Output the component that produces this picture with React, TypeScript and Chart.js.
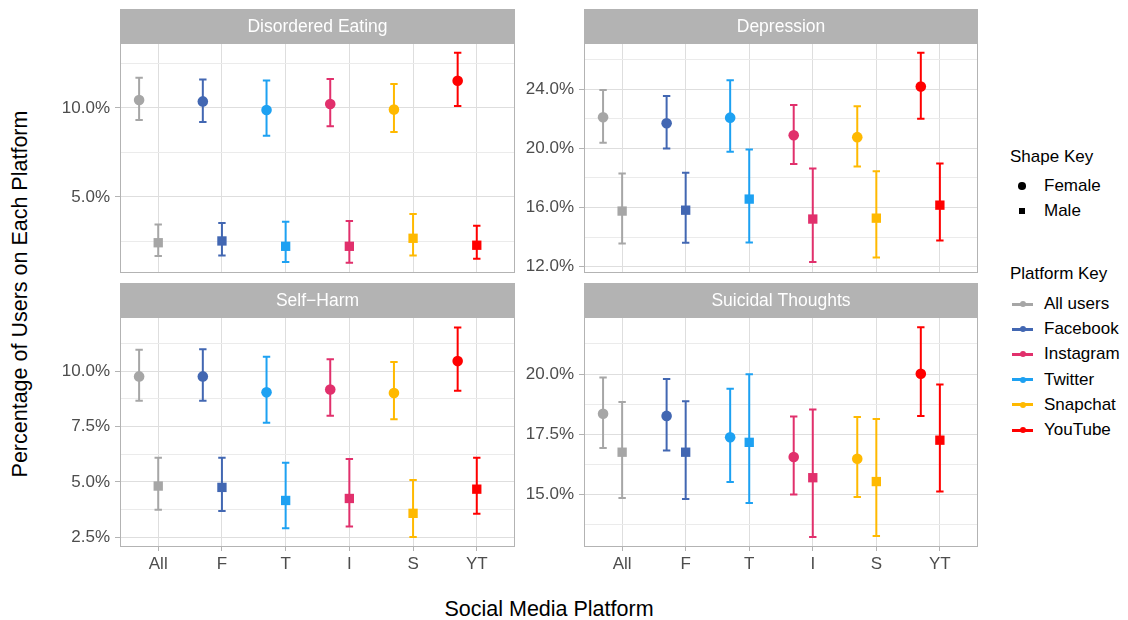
import React, { useEffect, useRef } from "react";
import { Chart, registerables } from "chart.js";

Chart.register(...registerables);

const FONT = '"Liberation Sans", Arial, Helvetica, sans-serif';

// x-axis categories (platform abbreviations) and their colours
const platformTicks = ["All", "F", "T", "I", "S", "YT"];
const platformColors = ["#A6A6A6", "#4267B2", "#1DA1F2", "#E1306C", "#FFB900", "#FF0000"];

// legend entries
const shapeKeyLabels = ["Female", "Male"];
const platformKeyLabels = ["All users", "Facebook", "Instagram", "Twitter", "Snapchat", "YouTube"];
const platformKeyColors = ["#A6A6A6", "#4267B2", "#E1306C", "#1DA1F2", "#FFB900", "#FF0000"];

// Disordered Eating (% of users), estimate with lower / upper interval
const eatingFemale = [10.45, 10.37, 9.89, 10.22, 9.91, 11.53];
const eatingFemaleLo = [9.33, 9.21, 8.44, 8.97, 8.65, 10.11];
const eatingFemaleHi = [11.7, 11.6, 11.55, 11.63, 11.35, 13.1];
const eatingMale = [2.43, 2.53, 2.23, 2.23, 2.68, 2.29];
const eatingMaleLo = [1.69, 1.72, 1.35, 1.31, 1.72, 1.53];
const eatingMaleHi = [3.45, 3.54, 3.61, 3.65, 4.04, 3.39];

// Depression
const depressionFemale = [22.11, 21.7, 22.08, 20.89, 20.76, 24.18];
const depressionFemaleLo = [20.39, 19.99, 19.78, 18.95, 18.77, 22.01];
const depressionFemaleHi = [23.95, 23.55, 24.61, 22.94, 22.85, 26.47];
const depressionMale = [15.76, 15.82, 16.57, 15.22, 15.28, 16.16];
const depressionMaleLo = [13.57, 13.61, 13.64, 12.31, 12.62, 13.77];
const depressionMaleHi = [18.3, 18.36, 19.92, 18.64, 18.46, 18.97];

// Self-Harm
const selfHarmFemale = [9.76, 9.76, 9.04, 9.17, 9.01, 10.45];
const selfHarmFemaleLo = [8.66, 8.66, 7.67, 7.98, 7.82, 9.11];
const selfHarmFemaleHi = [10.96, 10.99, 10.65, 10.53, 10.41, 11.97];
const selfHarmMale = [4.81, 4.75, 4.16, 4.25, 3.58, 4.67];
const selfHarmMaleLo = [3.74, 3.69, 2.91, 2.98, 2.51, 3.56];
const selfHarmMaleHi = [6.09, 6.09, 5.86, 6.03, 5.08, 6.09];

// Suicidal Thoughts
const suicidalFemale = [18.35, 18.26, 17.37, 16.55, 16.48, 20.01];
const suicidalFemaleLo = [16.93, 16.82, 15.51, 14.99, 14.89, 18.26];
const suicidalFemaleHi = [19.86, 19.79, 19.39, 18.23, 18.21, 21.94];
const suicidalMale = [16.75, 16.75, 17.16, 15.69, 15.53, 17.25];
const suicidalMaleLo = [14.85, 14.81, 14.64, 13.23, 13.27, 15.12];
const suicidalMaleHi = [18.84, 18.87, 19.99, 18.53, 18.13, 19.56];

// y-axis tick values per panel
const eatingMajor = [5, 10];
const eatingMinor = [2.5, 7.5, 12.5];
const depressionMajor = [12, 16, 20, 24];
const depressionMinor = [14, 18, 22, 26];
const selfHarmMajor = [2.5, 5, 7.5, 10];
const selfHarmMinor = [3.75, 6.25, 8.75, 11.25];
const suicidalMajor = [15, 17.5, 20];
const suicidalMinor = [13.75, 16.25, 18.75, 21.25];

const FEMALE_DODGE = -0.3;
const STRIP_H = 34;
const Y_AXIS_W = 64;

type Series = { est: number[]; lo: number[]; hi: number[] };
type PanelDef = {
  title: string;
  female: Series;
  male: Series;
  yMin: number;
  yMax: number;
  major: number[];
  minor: number[];
  left: number;
  top: number;
  width: number;
  bottomRow: boolean;
};

const panels: PanelDef[] = [
  {
    title: "Disordered Eating",
    female: { est: eatingFemale, lo: eatingFemaleLo, hi: eatingFemaleHi },
    male: { est: eatingMale, lo: eatingMaleLo, hi: eatingMaleHi },
    yMin: 0.73, yMax: 13.65, major: eatingMajor, minor: eatingMinor,
    left: 56, top: 9, width: 460, bottomRow: false,
  },
  {
    title: "Depression",
    female: { est: depressionFemale, lo: depressionFemaleLo, hi: depressionFemaleHi },
    male: { est: depressionMale, lo: depressionMaleLo, hi: depressionMaleHi },
    yMin: 11.57, yMax: 27.13, major: depressionMajor, minor: depressionMinor,
    left: 520, top: 9, width: 459, bottomRow: false,
  },
  {
    title: "Self\u2212Harm",
    female: { est: selfHarmFemale, lo: selfHarmFemaleLo, hi: selfHarmFemaleHi },
    male: { est: selfHarmMale, lo: selfHarmMaleLo, hi: selfHarmMaleHi },
    yMin: 2.06, yMax: 12.44, major: selfHarmMajor, minor: selfHarmMinor,
    left: 56, top: 283, width: 460, bottomRow: true,
  },
  {
    title: "Suicidal Thoughts",
    female: { est: suicidalFemale, lo: suicidalFemaleLo, hi: suicidalFemaleHi },
    male: { est: suicidalMale, lo: suicidalMaleLo, hi: suicidalMaleHi },
    yMin: 12.81, yMax: 22.37, major: suicidalMajor, minor: suicidalMinor,
    left: 520, top: 283, width: 459, bottomRow: true,
  },
];

// vertical interval lines with end caps, drawn under the points
const errorBarPlugin = {
  id: "errorBars",
  beforeDatasetsDraw(chart: any) {
    const { ctx, chartArea, scales } = chart;
    ctx.save();
    ctx.beginPath();
    ctx.rect(chartArea.left, chartArea.top, chartArea.right - chartArea.left, chartArea.bottom - chartArea.top);
    ctx.clip();
    ctx.lineWidth = 2;
    ctx.lineCap = "butt";
    chart.data.datasets.forEach((ds: any) => {
      ds.data.forEach((p: any, i: number) => {
        const x = scales.x.getPixelForValue(p.x);
        const yLo = scales.y.getPixelForValue(p.lo);
        const yHi = scales.y.getPixelForValue(p.hi);
        const cap = 3.7;
        ctx.strokeStyle = platformColors[i];
        ctx.beginPath();
        ctx.moveTo(x, yLo);
        ctx.lineTo(x, yHi);
        ctx.moveTo(x - cap, yLo);
        ctx.lineTo(x + cap, yLo);
        ctx.moveTo(x - cap, yHi);
        ctx.lineTo(x + cap, yHi);
        ctx.stroke();
      });
    });
    ctx.restore();
  },
};

// facet strip above the plotting area and the grey panel border
const panelFramePlugin = {
  id: "panelFrame",
  afterDraw(chart: any, _args: any, opts: any) {
    const { ctx, chartArea } = chart;
    const w = chartArea.right - chartArea.left;
    const h = chartArea.bottom - chartArea.top;
    ctx.save();
    ctx.fillStyle = "#B3B3B3";
    ctx.fillRect(chartArea.left, chartArea.top - STRIP_H, w, STRIP_H);
    ctx.fillStyle = "#FFFFFF";
    ctx.font = `17.5px ${FONT}`;
    ctx.textAlign = "center";
    ctx.textBaseline = "middle";
    ctx.fillText(opts.title, chartArea.left + w / 2, chartArea.top - STRIP_H / 2 + 1);
    ctx.strokeStyle = "#B3B3B3";
    ctx.lineWidth = 1;
    ctx.strokeRect(chartArea.left + 0.5, chartArea.top + 0.5, w - 1, h - 1);
    ctx.restore();
  },
};

const isIn = (list: number[], v: number) => list.some((m) => Math.abs(m - v) < 1e-6);

function Panel({ def }: { def: PanelDef }) {
  const ref = useRef<HTMLCanvasElement | null>(null);
  const height = def.bottomRow ? 300 : 272;

  useEffect(() => {
    if (!ref.current) return;
    const toPoints = (s: Series, offset: number) =>
      s.est.map((v, i) => ({ x: i + 1 + offset, y: v, lo: s.lo[i], hi: s.hi[i] }));
    const yTicks = [...def.major, ...def.minor].sort((a, b) => a - b);
    const zeroPad = (s: any) => {
      s.paddingTop = 0;
      s.paddingBottom = 0;
      s.paddingLeft = 0;
      s.paddingRight = 0;
    };

    const chart = new Chart(ref.current, {
      type: "scatter",
      data: {
        datasets: [
          {
            label: shapeKeyLabels[0],
            data: toPoints(def.female, FEMALE_DODGE),
            pointStyle: "circle",
            pointRadius: 5.3,
            pointHoverRadius: 5.3,
            pointBorderWidth: 0,
            pointBackgroundColor: platformColors,
            pointBorderColor: platformColors,
          },
          {
            label: shapeKeyLabels[1],
            data: toPoints(def.male, 0),
            pointStyle: "rect",
            pointRadius: 6.6,
            pointHoverRadius: 6.6,
            pointBorderWidth: 0,
            pointBackgroundColor: platformColors,
            pointBorderColor: platformColors,
          },
        ],
      },
      options: {
        animation: false,
        responsive: false,
        devicePixelRatio: 1,
        events: [],
        layout: {
          autoPadding: false,
          padding: { top: STRIP_H, right: 1, left: 0, bottom: def.bottomRow ? 6 : 8 },
        },
        plugins: {
          legend: { display: false },
          tooltip: { enabled: false },
          panelFrame: { title: def.title },
        } as any,
        scales: {
          x: {
            type: "linear",
            min: 0.4,
            max: 6.6,
            afterBuildTicks: (s: any) => {
              s.ticks = platformTicks.map((_, i) => ({ value: i + 1 }));
            },
            afterFit: (s: any) => {
              s.height = def.bottomRow ? 30 : 0;
              zeroPad(s);
            },
            ticks: {
              display: def.bottomRow,
              autoSkip: false,
              maxRotation: 0,
              padding: 3,
              color: "#4D4D4D",
              font: { family: FONT, size: 17 },
              callback: (v: any) => platformTicks[Math.round(Number(v)) - 1] ?? "",
            },
            grid: {
              color: "#DEDEDE",
              lineWidth: 1,
              drawTicks: def.bottomRow,
              tickLength: 4,
              tickColor: "#B3B3B3",
            },
            border: { display: false },
          },
          y: {
            type: "linear",
            min: def.yMin,
            max: def.yMax,
            afterBuildTicks: (s: any) => {
              s.ticks = yTicks.map((v) => ({ value: v }));
            },
            afterFit: (s: any) => {
              s.width = Y_AXIS_W;
              zeroPad(s);
            },
            ticks: {
              padding: 5,
              color: "#4D4D4D",
              font: { family: FONT, size: 17 },
              callback: (v: any) => (isIn(def.major, Number(v)) ? Number(v).toFixed(1) + "%" : ""),
            },
            grid: {
              color: (c: any) => (c.tick && isIn(def.major, c.tick.value) ? "#DEDEDE" : "#EBEBEB"),
              lineWidth: 1,
              tickLength: 5,
              tickColor: (c: any) => (c.tick && isIn(def.major, c.tick.value) ? "#B3B3B3" : "rgba(0,0,0,0)"),
            },
            border: { display: false },
          },
        },
      } as any,
      plugins: [errorBarPlugin, panelFramePlugin],
    });
    return () => chart.destroy();
  }, [def]);

  return (
    <canvas
      ref={ref}
      width={def.width}
      height={height}
      style={{ position: "absolute", left: def.left, top: def.top, width: def.width, height }}
    />
  );
}

const textBase: React.CSSProperties = { position: "absolute", fontFamily: FONT, whiteSpace: "nowrap" };

function Legend() {
  const shapeYs = [186, 211];
  const platformYs = [304, 329.2, 354.4, 379.6, 404.8, 430];
  return (
    <>
      <div style={{ ...textBase, left: 1010, top: 157 - 12, height: 24, lineHeight: "24px", fontSize: 17, color: "#000" }}>
        Shape Key
      </div>
      {shapeKeyLabels.map((lab, i) => (
        <React.Fragment key={lab}>
          <div
            style={{
              position: "absolute",
              left: i === 0 ? 1022 - 3.8 : 1022 - 3,
              top: i === 0 ? shapeYs[i] - 3.8 : shapeYs[i] - 3,
              width: i === 0 ? 7.6 : 6,
              height: i === 0 ? 7.6 : 6,
              borderRadius: i === 0 ? "50%" : 0,
              background: "#000",
            }}
          />
          <div style={{ ...textBase, left: 1044, top: shapeYs[i] - 12, height: 24, lineHeight: "24px", fontSize: 17, color: "#000" }}>
            {lab}
          </div>
        </React.Fragment>
      ))}
      <div style={{ ...textBase, left: 1010, top: 274 - 12, height: 24, lineHeight: "24px", fontSize: 17, color: "#000" }}>
        Platform Key
      </div>
      {platformKeyLabels.map((lab, i) => (
        <React.Fragment key={lab}>
          <div
            style={{
              position: "absolute",
              left: 1012,
              top: platformYs[i] - 1.5,
              width: 21,
              height: 3,
              background: platformKeyColors[i],
            }}
          />
          <div
            style={{
              position: "absolute",
              left: 1022.5 - 3,
              top: platformYs[i] - 3,
              width: 6,
              height: 6,
              borderRadius: "50%",
              background: platformKeyColors[i],
            }}
          />
          <div style={{ ...textBase, left: 1044, top: platformYs[i] - 12, height: 24, lineHeight: "24px", fontSize: 17, color: "#000" }}>
            {lab}
          </div>
        </React.Fragment>
      ))}
    </>
  );
}

export default function App() {
  return (
    <div style={{ position: "fixed", left: 0, top: 0, width: 1128, height: 620, background: "#FFFFFF", overflow: "hidden" }}>
      {panels.map((p) => (
        <Panel key={p.title} def={p} />
      ))}
      <div
        style={{
          ...textBase,
          left: 0,
          width: 1098,
          top: 596,
          height: 26,
          lineHeight: "26px",
          textAlign: "center",
          fontSize: 21.5,
          color: "#000",
        }}
      >
        Social Media Platform
      </div>
      <div
        style={{
          ...textBase,
          left: 20 - 250,
          top: 294 - 13,
          width: 500,
          height: 26,
          lineHeight: "26px",
          textAlign: "center",
          fontSize: 21.5,
          color: "#000",
          transform: "rotate(-90deg)",
        }}
      >
        Percentage of Users on Each Platform
      </div>
      <Legend />
    </div>
  );
}
